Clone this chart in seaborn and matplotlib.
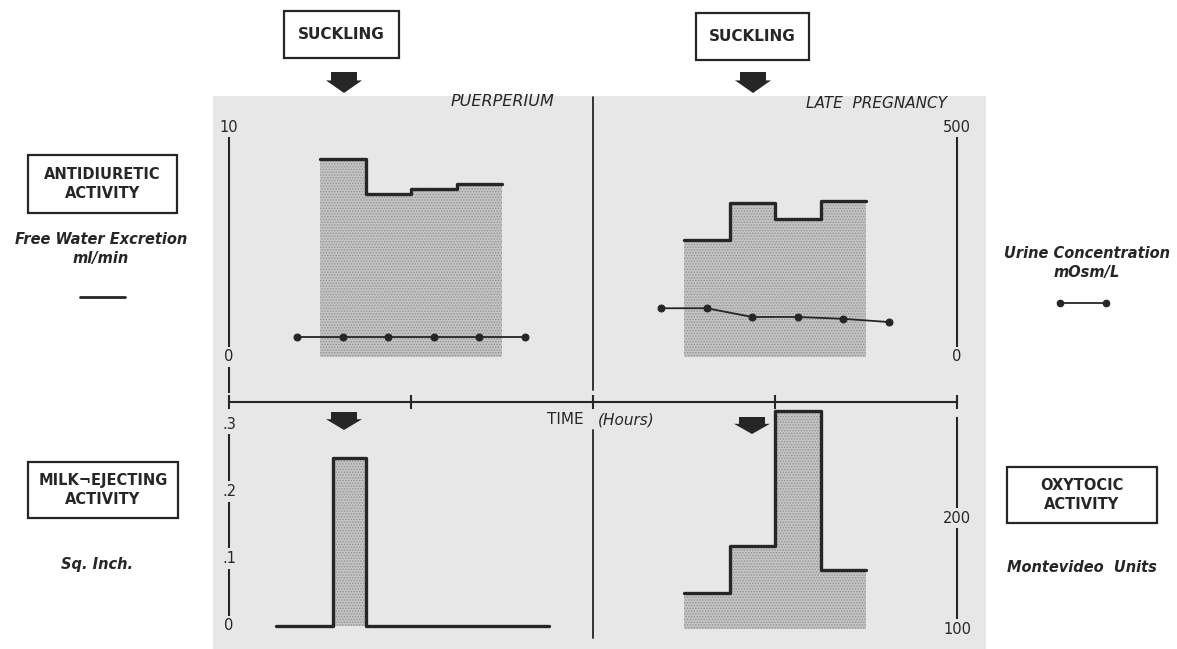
import numpy as np
import pandas as pd
import matplotlib.pyplot as plt
import seaborn as sns
from matplotlib.patches import Rectangle, Polygon

sns.set_theme(style='white')
plt.rcParams['font.family'] = ['DejaVu Sans']
plt.rcParams['hatch.linewidth'] = 0.7

# time in hours; step edges (last edge = end of last step)
puer_step_t = [0.5, 0.75, 1.0, 1.25, 1.5]
puer_water = [8.6, 7.1, 7.3, 7.5]          # ml/min
preg_step_t = [2.5, 2.75, 3.0, 3.25, 3.5]
preg_water = [5.1, 6.7, 6.0, 6.8]

puer_dot_t = [0.375, 0.625, 0.875, 1.125, 1.375, 1.625]
puer_urine = [43, 43, 43, 43, 43, 43]       # mOsm/L
preg_dot_t = [2.375, 2.625, 2.875, 3.125, 3.375, 3.625]
preg_urine = [106, 106, 87, 87, 83, 76]

milk_t = [0.26, 0.57, 0.75, 1.76]
milk_area = [0, 0.25, 0]                    # sq. inch
oxy_t = [2.5, 2.75, 3.0, 3.25, 3.5]
oxy_units = [132, 175, 296, 153]            # Montevideo units

time_ticks = [0, 1, 2, 3, 4]
water_ticks, water_labels = [0, 10], ['0', '10']
urine_ticks, urine_labels = [0, 500], ['0', '500']
milk_ticks, milk_labels = [0, 0.1, 0.2, 0.3], ['0', '.1', '.2', '.3']
oxy_ticks, oxy_labels = [100, 200], ['100', '200']

bg = '#e7e7e7'
ink = '#262626'
shade = '#c4c4c4'
W, H = 1177, 649


def steps(t, v):
    return pd.DataFrame({'t': t, 'v': list(v) + [v[-1]]})


def axis_labels(ax, ticks, labels, side):
    # labels sit on the axis line and break it, like the original
    xpos = 0 if side == 'left' else 1
    for y, s in zip(ticks, labels):
        ax.text(xpos, y, s, transform=ax.get_yaxis_transform(), ha='center',
                va='center', fontsize=10.5, color=ink, zorder=6,
                bbox=dict(boxstyle='square,pad=0.2', fc=bg, ec='none'))
    ax.set_yticks([])


def style_spine(ax, side, lo, hi):
    for s in ['top', 'right', 'left', 'bottom']:
        ax.spines[s].set_visible(False)
    sp = ax.spines[side]
    sp.set_visible(True)
    sp.set_color(ink)
    sp.set_linewidth(1.5)
    sp.set_bounds(lo, hi)
    sp.set_zorder(1)


fig = plt.figure(figsize=(W / 100, H / 100), dpi=100)

# page overlay in pixel coordinates for labels, boxes and arrows
ov = fig.add_axes([0, 0, 1, 1])
ov.set_xlim(0, W)
ov.set_ylim(H, 0)
ov.axis('off')
ov.add_patch(Rectangle((213, 96), 773, 553, fc=bg, ec='none'))

box_kw = dict(fc='white', ec=ink, lw=1.6)
for (x, y, w, h, txt) in [(284, 11, 115, 47, 'SUCKLING'), (696, 13, 113, 47, 'SUCKLING')]:
    ov.add_patch(Rectangle((x, y), w, h, **box_kw))
    ov.text(x + w / 2, y + h / 2, txt, ha='center', va='center', fontsize=11,
            fontweight='bold', color=ink)
for (x, y, w, h, txt) in [(28, 155, 149, 58, 'ANTIDIURETIC\nACTIVITY'),
                          (28, 462, 150, 56, 'MILK¬EJECTING\nACTIVITY'),
                          (1007, 467, 150, 56, 'OXYTOCIC\nACTIVITY')]:
    ov.add_patch(Rectangle((x, y), w, h, **box_kw))
    ov.text(x + w / 2, y + h / 2, txt, ha='center', va='center', fontsize=10.5,
            fontweight='bold', color=ink, linespacing=1.35)

it_kw = dict(ha='center', va='center', fontsize=10.5, fontstyle='italic',
             fontweight='bold', color=ink)
ov.text(101, 240, 'Free Water Excretion', **it_kw)
ov.text(101, 258, 'ml/min', **it_kw)
ov.text(1087, 253, 'Urine Concentration', **it_kw)
ov.text(1087, 272, 'mOsm/L', **it_kw)
ov.text(97, 565, 'Sq. Inch.', **it_kw)
ov.text(1082, 568, 'Montevideo  Units', **it_kw)
ov.plot([80, 125], [297, 297], color=ink, lw=2)
ov.plot([1060, 1106], [303, 303], color=ink, lw=1.3, marker='o', ms=4.5)

ov.text(502, 102, 'PUERPERIUM', ha='center', va='center', fontsize=11.5,
        fontstyle='italic', color=ink)
ov.text(876, 103, 'LATE  PREGNANCY', ha='center', va='center', fontsize=11,
        fontstyle='italic', color=ink)
ov.text(565, 420, 'TIME', ha='center', va='center', fontsize=11, color=ink)
ov.text(626, 420, '(Hours)', ha='center', va='center', fontsize=11,
        fontstyle='italic', color=ink)


def down_arrow(cx, top, bottom):
    mid = top + (bottom - top) * 0.4
    pts = [(cx - 13, top), (cx + 13, top), (cx + 13, mid), (cx + 18, mid),
           (cx, bottom), (cx - 18, mid), (cx - 13, mid)]
    ov.add_patch(Polygon(pts, closed=True, fc=ink, ec='none', joinstyle='round'))


down_arrow(344, 72, 93)
down_arrow(753, 72, 93)
down_arrow(344, 412, 430)
down_arrow(752, 417, 434)

# ---- upper panel: free water excretion / urine concentration
x0, x1 = 229 / W, (957 - 229) / W
top = fig.add_axes([x0, 1 - 402 / H, x1, (402 - 96) / H])
top.patch.set_alpha(0)
top.set_xlim(0, 4)
top.set_ylim(-1.957, 11.348)

fill_kw = dict(facecolor=shade, edgecolor='#929292', hatch='......', linewidth=0)
for t, v in [(puer_step_t, puer_water), (preg_step_t, preg_water)]:
    d = steps(t, v)
    top.fill_between(d['t'], d['v'], 0, step='post', **fill_kw)
    sns.lineplot(data=d, x='t', y='v', drawstyle='steps-post', color=ink,
                 lw=2.4, ax=top)
top.plot([2, 2], [-1.43, 11.3], color=ink, lw=1.3)

style_spine(top, 'left', -1.52, 10)
top.spines['bottom'].set_visible(True)
top.spines['bottom'].set_color(ink)
top.spines['bottom'].set_linewidth(1.5)
top.set_xticks(time_ticks)
top.set_xticklabels([])
top.tick_params(axis='x', direction='inout', length=10, width=1.5, color=ink,
                bottom=True)
axis_labels(top, water_ticks, water_labels, 'left')
top.set_xlabel('')
top.set_ylabel('')

topr = top.twinx()
topr.set_ylim(-1.957 * 50, 11.348 * 50)
for t, v in [(puer_dot_t, puer_urine), (preg_dot_t, preg_urine)]:
    sns.lineplot(x=t, y=v, color=ink, lw=1.3, marker='o', ms=5,
                 markeredgecolor=ink, ax=topr)
style_spine(topr, 'right', 0, 500)
axis_labels(topr, urine_ticks, urine_labels, 'right')
topr.set_ylabel('')

# ---- lower panel: milk ejection / oxytocic activity
bot = fig.add_axes([x0, 1 - 648 / H, x1, (648 - 402) / H])
bot.patch.set_alpha(0)
bot.set_xlim(0, 4)
bot.set_ylim(-0.0327, 0.3328)
d = steps(milk_t, milk_area)
bot.fill_between(d['t'], d['v'], 0, step='post', **fill_kw)
sns.lineplot(data=d, x='t', y='v', drawstyle='steps-post', color=ink, lw=2.4,
             ax=bot)
bot.plot([2, 2], [-0.018, 0.291], color=ink, lw=1.3)
bot.set_xticks([])
style_spine(bot, 'left', 0, 0.3)
axis_labels(bot, milk_ticks, milk_labels, 'left')
bot.set_xlabel('')
bot.set_ylabel('')

botr = bot.twinx()
botr.set_ylim(82.9, 304.5)
d = steps(oxy_t, oxy_units)
botr.fill_between(d['t'], d['v'], 100, step='post', **fill_kw)
sns.lineplot(data=d, x='t', y='v', drawstyle='steps-post', color=ink, lw=2.4,
             ax=botr)
style_spine(botr, 'right', 100, 290)
axis_labels(botr, oxy_ticks, oxy_labels, 'right')
botr.set_ylabel('')

fig.savefig('out.png', dpi=100)
